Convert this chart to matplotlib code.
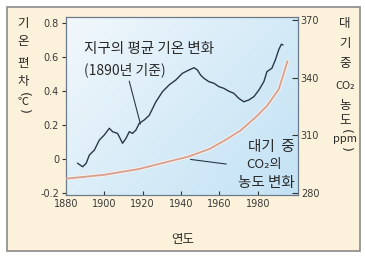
import numpy as np
import matplotlib
matplotlib.use("Agg")
import matplotlib.pyplot as plt
from matplotlib.colors import LinearSegmentedColormap
from matplotlib.patches import Rectangle

plt.rcParams['font.family'] = ['Noto Sans CJK KR', 'DejaVu Sans']

# ---- data ----
temp_years = [1886.1, 1888.7, 1890.5, 1892.2, 1894.8, 1897.4, 1900, 1902.6, 1904.3, 1906.9,
              1909.5, 1911.3, 1913, 1914.7, 1916.5, 1918.2, 1920.8, 1923.4, 1926.9, 1930.3,
              1933.8, 1937.3, 1940.7, 1944.2, 1946.8, 1948.5, 1950.2, 1951.9, 1954.5, 1957.1,
              1959.7, 1962.3, 1964.9, 1967.5, 1970.1, 1972.7, 1975.3, 1978, 1980.6, 1983.2,
              1984.8, 1987.4, 1989.2, 1990.9, 1992.3, 1993.1]
temp_vals = [-0.027, -0.047, -0.027, 0.022, 0.051, 0.11, 0.14, 0.179, 0.159, 0.149,
             0.091, 0.12, 0.159, 0.149, 0.169, 0.208, 0.228, 0.255, 0.335, 0.394,
             0.434, 0.463, 0.502, 0.522, 0.535, 0.522, 0.492, 0.473, 0.453, 0.444,
             0.424, 0.414, 0.397, 0.385, 0.355, 0.335, 0.345, 0.365, 0.404, 0.453,
             0.512, 0.532, 0.581, 0.639, 0.673, 0.669]
co2_years = [1880, 1900, 1918, 1930, 1944, 1955, 1963, 1971, 1979, 1985, 1991, 1995.5]
co2_vals = [287.5, 289.5, 292.5, 295.5, 299, 303, 307.5, 312.5, 319.5, 325.5, 334, 348.5]
x_ticks = [1880, 1900, 1920, 1940, 1960, 1980]
left_ticks = [-0.2, 0, 0.2, 0.4, 0.6, 0.8]
left_labels = ['-0.2', '0', '0.2', '0.4', '0.6', '0.8']
right_ticks = [280, 310, 340, 370]

W, H = 365, 256
fig = plt.figure(figsize=(W / 100, H / 100), dpi=100)
fig.patch.set_facecolor('white')

def fx(px):
    return px / W

def fy(py):
    return 1 - py / H

# cream panel with gray border
fig.patches.append(Rectangle((fx(7), fy(251)), fx(353), (244) / H, transform=fig.transFigure,
                             facecolor='#fcf1da', edgecolor='#8a8a8a', linewidth=1.2, zorder=-5))

ax = fig.add_axes([fx(66), fy(195), fx(298 - 66), (195 - 17) / H])
ax.set_facecolor('none')
ax.patch.set_alpha(0)

# gradient background
cmap = LinearSegmentedColormap.from_list('bg', ['#f2f8fc', '#d8ecf8', '#c3e2f4'])
gx, gy = np.meshgrid(np.linspace(0, 1, 200), np.linspace(0, 1, 200))
grad = 0.6 * gx + 0.4 * gy
ax.imshow(grad, cmap=cmap, extent=[0, 1, 0, 1], transform=ax.transAxes, aspect='auto', zorder=0,
          origin='upper')

ax.set_xlim(1880, 2001)
ax.set_ylim(-0.213, 0.833)
ax.plot(temp_years, temp_vals, color='#2a3848', linewidth=1.0, zorder=3)

ax2 = ax.twinx()
ax2.set_ylim(279, 371.5)
ax2.plot(co2_years, co2_vals, color='#f7efec', linewidth=2.8, zorder=2, solid_capstyle='round')
ax2.plot(co2_years, co2_vals, color='#d6a08f', linewidth=1.3, zorder=3)

tick_color = '#3a3a3a'
ax.set_xticks(x_ticks)
ax.set_xticklabels([str(t) for t in x_ticks], fontsize=7, color=tick_color, family='DejaVu Sans')
ax.set_yticks(left_ticks)
ax.set_yticklabels(left_labels, fontsize=7, color=tick_color, family='DejaVu Sans')
ax.tick_params(axis='x', direction='in', length=3, width=0.8, color='#333333', pad=3)
ax.tick_params(axis='y', direction='out', length=3, width=0.8, color='#333333', pad=2)
ax2.set_yticks(right_ticks)
ax2.set_yticklabels([str(t) for t in right_ticks], fontsize=7, color=tick_color, family='DejaVu Sans')
ax2.tick_params(axis='y', direction='in', length=4, width=0.8, color='#333333', pad=2)

for a in (ax, ax2):
    for s in a.spines.values():
        s.set_color('#6a7a88')
        s.set_linewidth(0.8)

txt_color = '#2a2a2a'
# annotations
ax.text(1889.6, 0.645, '지구의 평균 기온 변화', fontsize=10.5, color=txt_color, va='center', ha='left', zorder=5)
ax.text(1889.6, 0.525, '(1890년 기준)', fontsize=10, color=txt_color, va='center', ha='left', zorder=5)
ax.plot([1913, 1918.8], [0.455, 0.205], color='#2a3848', linewidth=0.8, zorder=4)

ax.text(1999.5, 0.068, '대기  중', fontsize=10.5, color=txt_color, va='center', ha='right', zorder=5)
ax.text(1983.5, -0.035, 'CO₂의', fontsize=9.5, color=txt_color, va='center', ha='center', zorder=5)
ax.text(1999.5, -0.14, '농도 변화', fontsize=10.5, color=txt_color, va='center', ha='right', zorder=5)
ax.plot([1945, 1963.5], [-0.004, -0.031], color='#2a3848', linewidth=0.8, zorder=4)

# vertical axis labels
left_chars = [('기', 23, 9, 0), ('온', 42, 9, 0), ('편', 63, 9, 0), ('차', 81, 9, 0),
              ('(', 94, 9, -90), ('℃', 102, 8, 0), (')', 111, 9, -90)]
for ch, y, fs, rot in left_chars:
    fig.text(fx(23), fy(y), ch, fontsize=fs, color=txt_color, ha='center', va='center',
             rotation=rot, family=['DejaVu Sans'] if rot else None)

right_chars = [('대', 23, 9, 0), ('기', 43, 9, 0), ('중', 64, 9, 0), ('CO₂', 86, 8, 0),
               ('농', 105, 9, 0), ('도', 121, 9, 0), ('(', 131, 9, -90), ('ppm', 139, 8, 0),
               (')', 149, 9, -90)]
for ch, y, fs, rot in right_chars:
    fig.text(fx(345), fy(y), ch, fontsize=fs, color=txt_color, ha='center', va='center',
             rotation=rot, family=['DejaVu Sans'] if rot else None)

fig.text(fx(183), fy(240), '연도', fontsize=9, color=txt_color, ha='center', va='center')

fig.savefig('out.png', dpi=100, facecolor=fig.get_facecolor())
